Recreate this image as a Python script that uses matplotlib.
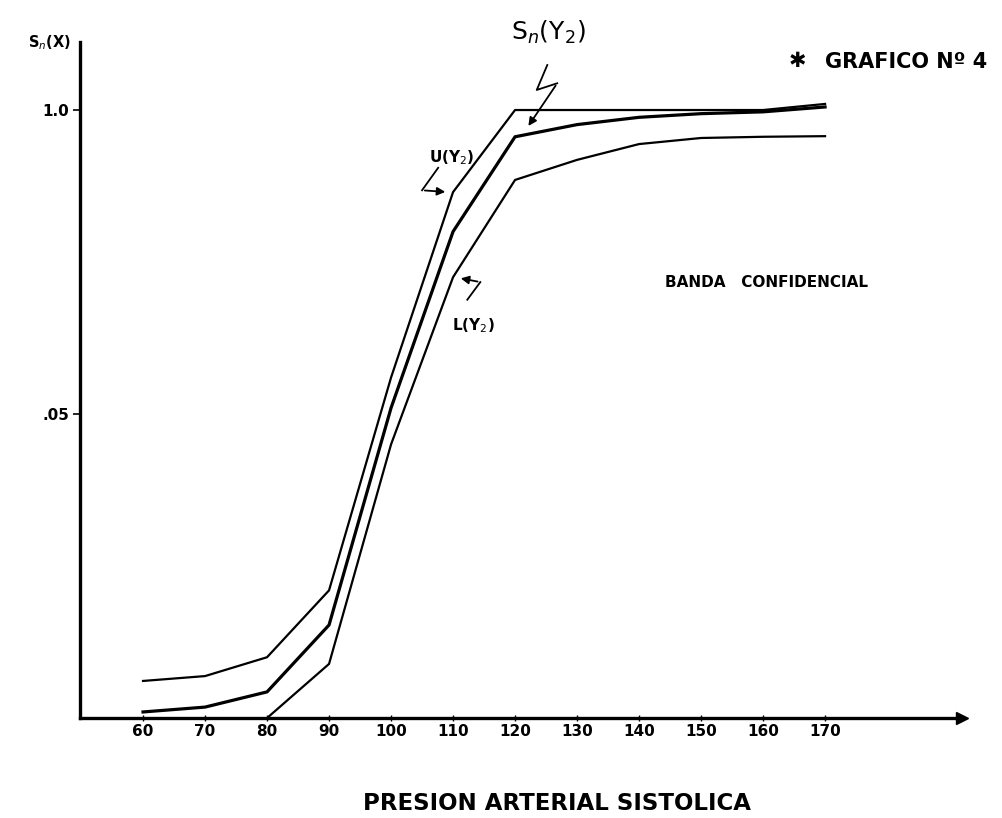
import matplotlib
matplotlib.use('Agg')
import matplotlib.pyplot as plt

# === Data ===
presion = [60, 70, 80, 90, 100, 110, 120, 130, 140, 150, 160, 170]
s_n = [0.010, 0.018, 0.043, 0.153, 0.51, 0.80, 0.956, 0.976, 0.988, 0.994, 0.997, 1.005]
upper = [0.061, 0.069, 0.100, 0.21, 0.56, 0.865, 1.0, 1.0, 1.0, 1.0, 1.0, 1.01]
presion_low = [80, 90, 100, 110, 120, 130, 140, 150, 160, 170]
lower = [0.0, 0.089, 0.45, 0.725, 0.885, 0.918, 0.944, 0.954, 0.956, 0.957]

y_ticks = [0.5, 1.0]
y_ticklabels = ['.05', '1.0']

# === Figure ===
fig = plt.figure(figsize=(10.03, 8.18), dpi=100)
ax = fig.add_axes([0.0798, 0.1222, 0.8794, 0.8264])
ax.set_xlim(49.84, 192.1)
ax.set_ylim(0, 1.1118)

for side in ['top', 'right']:
    ax.spines[side].set_visible(False)
for side in ['left', 'bottom']:
    ax.spines[side].set_linewidth(2.4)

# axis arrow heads
ax.plot(1, 0, '>k', ms=8, transform=ax.get_yaxis_transform(), clip_on=False)
ax.plot(0, 1, '^k', ms=7, transform=ax.get_xaxis_transform(), clip_on=False)

# curves
ax.plot(presion, upper, color='black', lw=1.6)
ax.plot(presion, s_n, color='black', lw=2.3)
ax.plot(presion_low, lower, color='black', lw=1.6)

# ticks
ax.set_xticks(presion)
ax.set_xticklabels([str(v) for v in presion], fontsize=11, fontweight='bold')
ax.tick_params(axis='x', direction='inout', length=4, width=1, pad=2)
ax.set_yticks(y_ticks)
ax.set_yticklabels(y_ticklabels, fontsize=11, fontweight='bold')
ax.tick_params(axis='y', direction='out', length=5, width=1.2, pad=3)

# y axis label
ax.text(48.3, 1.11, 'S$_n$(X)', ha='right', va='center', fontsize=10.5, fontweight='bold')

# x axis title
ax.text(0.541, -0.126, 'PRESION ARTERIAL SISTOLICA', transform=ax.transAxes,
        ha='center', va='center', fontsize=16.5, fontweight='bold')

# title / labels
ax.text(165.5, 1.081, '\u2731', ha='center', va='center', fontsize=15, fontweight='bold')
ax.text(170.0, 1.079, 'GRAFICO Nº 4', ha='left', va='center', fontsize=15, fontweight='bold')
ax.text(160.6, 0.717, 'BANDA   CONFIDENCIAL', ha='center', va='center', fontsize=11, fontweight='bold')

# S_n(Y2) annotation with zig-zag arrow
ax.text(125.3, 1.128, 'S$_n$(Y$_2$)', ha='center', va='center', fontsize=18)
ax.plot([125.2, 123.5, 126.8], [1.074, 1.033, 1.044], color='black', lw=1.3, clip_on=False)
ax.annotate('', xy=(121.9, 0.970), xytext=(126.8, 1.044),
            arrowprops=dict(arrowstyle='-|>', color='black', lw=1.3, mutation_scale=12))

# U(Y2) annotation
ax.text(109.8, 0.921, 'U(Y$_2$)', ha='center', va='center', fontsize=11, fontweight='bold')
ax.plot([107.6, 105.0], [0.905, 0.868], color='black', lw=1.3)
ax.annotate('', xy=(109.2, 0.865), xytext=(105.0, 0.868),
            arrowprops=dict(arrowstyle='-|>', color='black', lw=1.3, mutation_scale=12))

# L(Y2) annotation
ax.text(113.2, 0.646, 'L(Y$_2$)', ha='center', va='center', fontsize=11, fontweight='bold')
ax.plot([112.3, 114.4], [0.688, 0.717], color='black', lw=1.3)
ax.annotate('', xy=(110.8, 0.724), xytext=(114.4, 0.717),
            arrowprops=dict(arrowstyle='-|>', color='black', lw=1.3, mutation_scale=12))

fig.savefig('out.png', dpi=100)
